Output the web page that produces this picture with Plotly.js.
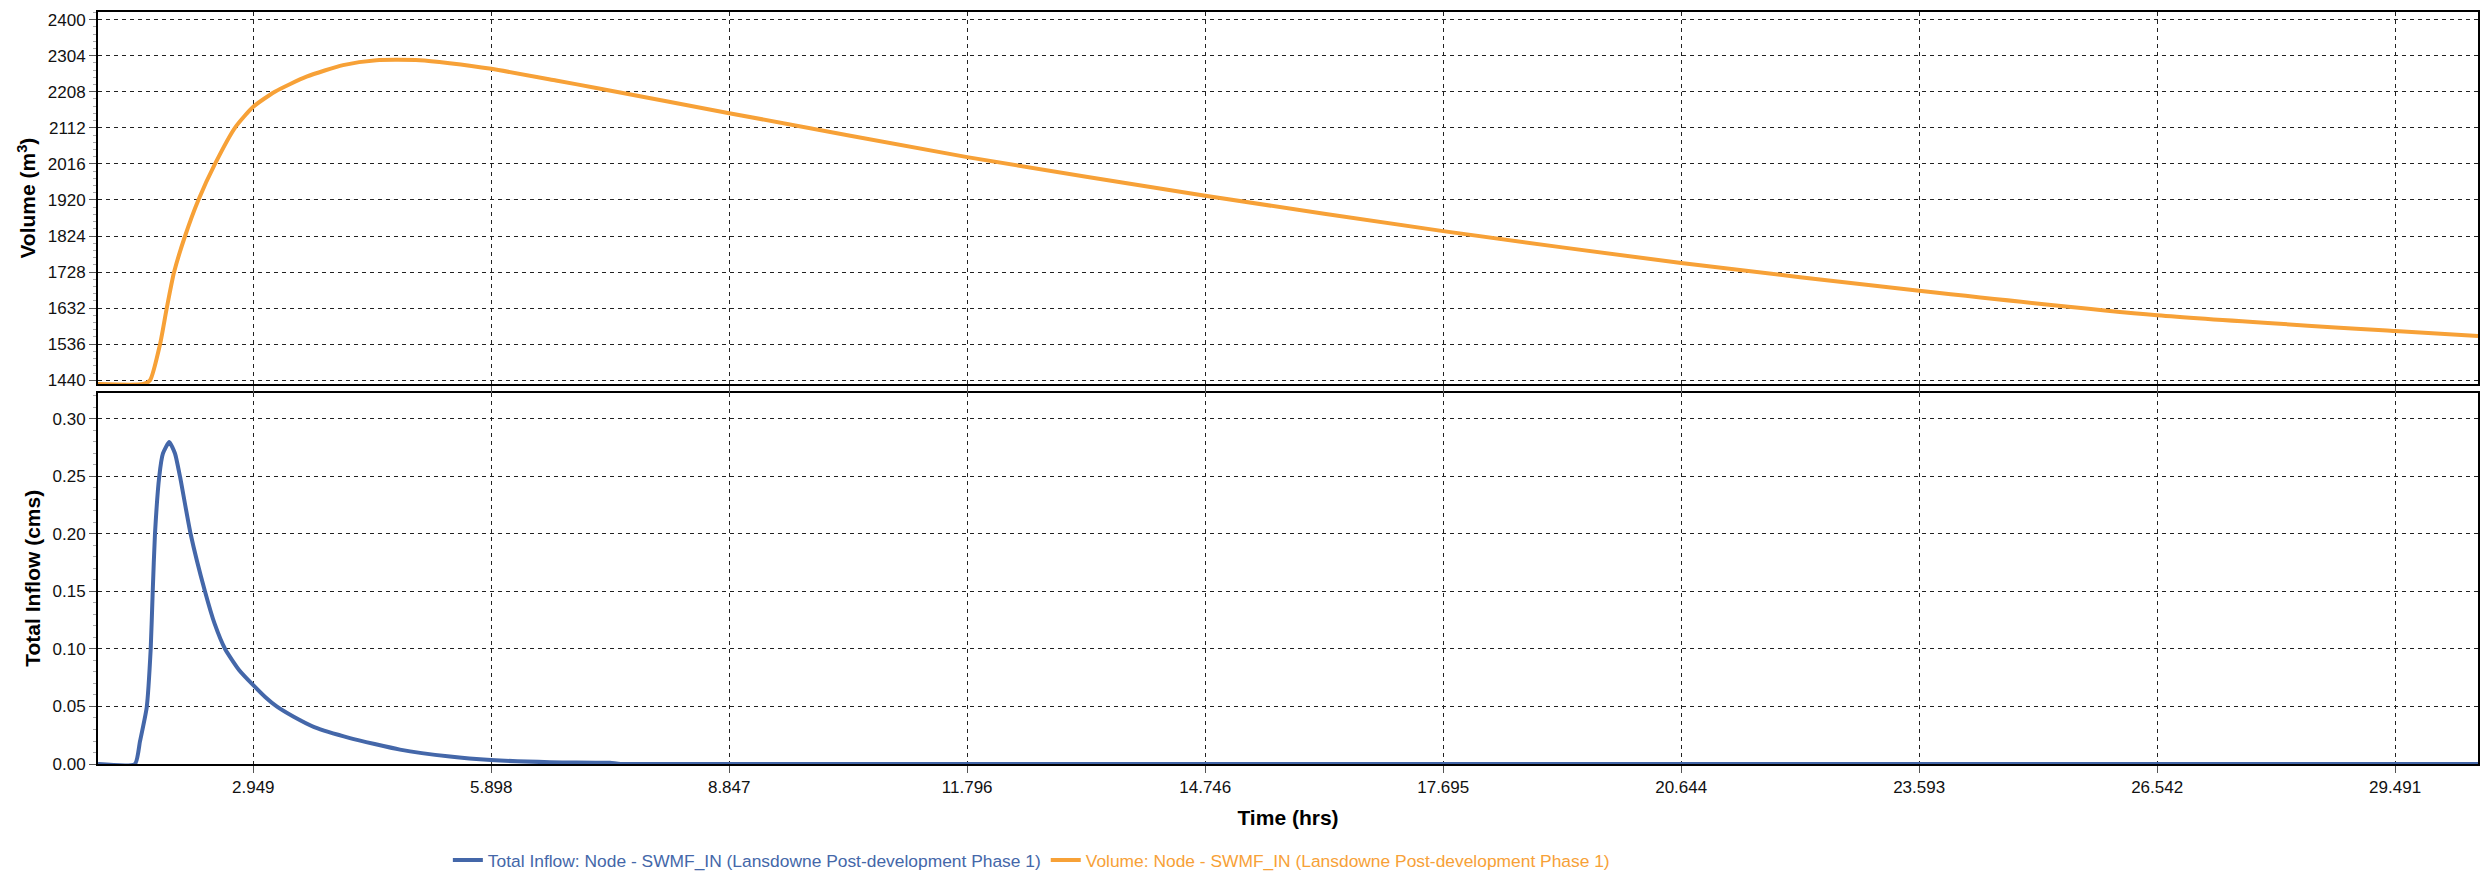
<!DOCTYPE html>
<html><head><meta charset="utf-8">
<script src="https://cdn.plot.ly/plotly-3.0.1.min.js"></script>
<style>html,body{margin:0;padding:0;background:#fff}#chart{width:2481px;height:881px}</style>
</head><body><div id="chart"></div>
<script>
// ---- data ----
const volumeTime = [1.025, 1.588, 1.670, 1.794, 1.877, 1.968, 2.104, 2.269, 2.475, 2.722, 2.949, 3.217, 3.609, 4.062, 4.475, 5.011, 5.382, 5.898, 6.700, 7.200, 8.847, 11.796, 14.746, 17.695, 20.644, 23.593, 26.542, 29.491, 30.518];
const volumeM3   = [1430, 1430, 1440, 1536, 1632, 1728, 1824, 1920, 2016, 2112, 2168, 2208, 2248, 2279, 2292, 2292, 2284, 2269, 2238, 2218, 2151, 2034, 1931, 1837, 1752, 1678, 1613, 1571, 1558];

const inflowTime = [1.025, 1.483, 1.545, 1.628, 1.678, 1.703, 1.731, 1.784, 1.830, 1.908, 1.979, 2.041, 2.173, 2.351, 2.470, 2.600, 2.770, 2.949, 3.100, 3.239, 3.450, 3.705, 4.147, 4.767, 5.386, 5.894, 6.625, 7.370, 7.500, 30.518];
const inflowCms  = [0, 0, 0.0196, 0.049, 0.100, 0.150, 0.200, 0.250, 0.270, 0.280, 0.270, 0.250, 0.200, 0.150, 0.122, 0.100, 0.082, 0.0685, 0.058, 0.050, 0.041, 0.032, 0.0225, 0.0125, 0.0065, 0.0035, 0.0015, 0.001, 0, 0];

const timeTicks = [2.949, 5.898, 8.847, 11.796, 14.746, 17.695, 20.644, 23.593, 26.542, 29.491];
const timeTickLabels = ["2.949", "5.898", "8.847", "11.796", "14.746", "17.695", "20.644", "23.593", "26.542", "29.491"];
const volumeTicks = [1440, 1536, 1632, 1728, 1824, 1920, 2016, 2112, 2208, 2304, 2400];
const volumeTickLabels = ["1440", "1536", "1632", "1728", "1824", "1920", "2016", "2112", "2208", "2304", "2400"];
const inflowTicks = [0, 0.05, 0.10, 0.15, 0.20, 0.25, 0.30];
const inflowTickLabels = ["0.00", "0.05", "0.10", "0.15", "0.20", "0.25", "0.30"];

const seriesNames = [
  "Total Inflow: Node - SWMF_IN (Lansdowne Post-development Phase 1)",
  "Volume: Node - SWMF_IN (Lansdowne Post-development Phase 1)"
];
const seriesColors = ["#4467A9", "#F7A137"];

// ---- chart ----
const FONT = 'Arial, "Liberation Sans", sans-serif';
const gridStyle = {
  showgrid: true, gridcolor: '#222', gridwidth: 1, griddash: '4px,4px',
  showline: true, linecolor: '#000', linewidth: 2, mirror: true,
  zeroline: false, ticks: 'outside', tickcolor: '#555', ticklen: 7,
  tickfont: {family: FONT, size: 17, color: '#111'}
};

const traces = [
  {
    x: inflowTime, y: inflowCms, xaxis: 'x', yaxis: 'y',
    type: 'scatter', mode: 'lines',
    line: {color: seriesColors[0], width: 4, shape: 'spline', smoothing: 0.5},
    name: '<span style="color:' + seriesColors[0] + '">' + seriesNames[0] + '</span>'
  },
  {
    x: volumeTime, y: volumeM3, xaxis: 'x2', yaxis: 'y2',
    type: 'scatter', mode: 'lines',
    line: {color: seriesColors[1], width: 4, shape: 'spline', smoothing: 0.6},
    name: '<span style="color:' + seriesColors[1] + '">' + seriesNames[1] + '</span>'
  }
];

const xRange = [1.025, 30.518];

const layout = {
  width: 2481, height: 881,
  paper_bgcolor: '#fff', plot_bgcolor: '#fff',
  margin: {l: 98, r: 3, t: 12, b: 112},
  font: {family: FONT, color: '#111'},
  showlegend: true,
  legend: {
    orientation: 'h', x: 0.147, xanchor: 'left', y: -0.128, yanchor: 'middle',
    font: {family: FONT, size: 17.4}, bgcolor: 'rgba(0,0,0,0)', traceorder: 'normal'
  },
  xaxis: Object.assign({}, gridStyle, {
    domain: [0, 1], anchor: 'y', range: xRange,
    tickmode: 'array', tickvals: timeTicks, ticktext: timeTickLabels,
    title: {text: '<b>Time (hrs)</b>', font: {family: FONT, size: 21, color: '#000'}, standoff: 14}
  }),
  yaxis: Object.assign({}, gridStyle, {
    domain: [0, 0.494], anchor: 'x', range: [0, 0.323],
    tickmode: 'array', tickvals: inflowTicks, ticktext: inflowTickLabels,
    minor: {ticks: 'outside', ticklen: 3, tickcolor: '#aaa', dtick: 0.01, showgrid: false},
    title: {text: '<b>Total Inflow (cms)</b>', font: {family: FONT, size: 21, color: '#000'}, standoff: 6}
  }),
  xaxis2: Object.assign({}, gridStyle, {
    domain: [0, 1], anchor: 'y2', range: xRange, matches: 'x',
    tickmode: 'array', tickvals: timeTicks, ticktext: timeTickLabels, showticklabels: false
  }),
  yaxis2: Object.assign({}, gridStyle, {
    domain: [0.505, 1], anchor: 'x2', range: [1429.4, 2420.3],
    tickmode: 'array', tickvals: volumeTicks, ticktext: volumeTickLabels,
    minor: {ticks: 'outside', ticklen: 3, tickcolor: '#aaa', dtick: 19.2, showgrid: false},
    title: {text: '<b>Volume (m<sup>3</sup>)</b>', font: {family: FONT, size: 21, color: '#000'}, standoff: 6}
  })
};

Plotly.newPlot('chart', traces, layout, {displayModeBar: false, staticPlot: true});
</script>
</body></html>
